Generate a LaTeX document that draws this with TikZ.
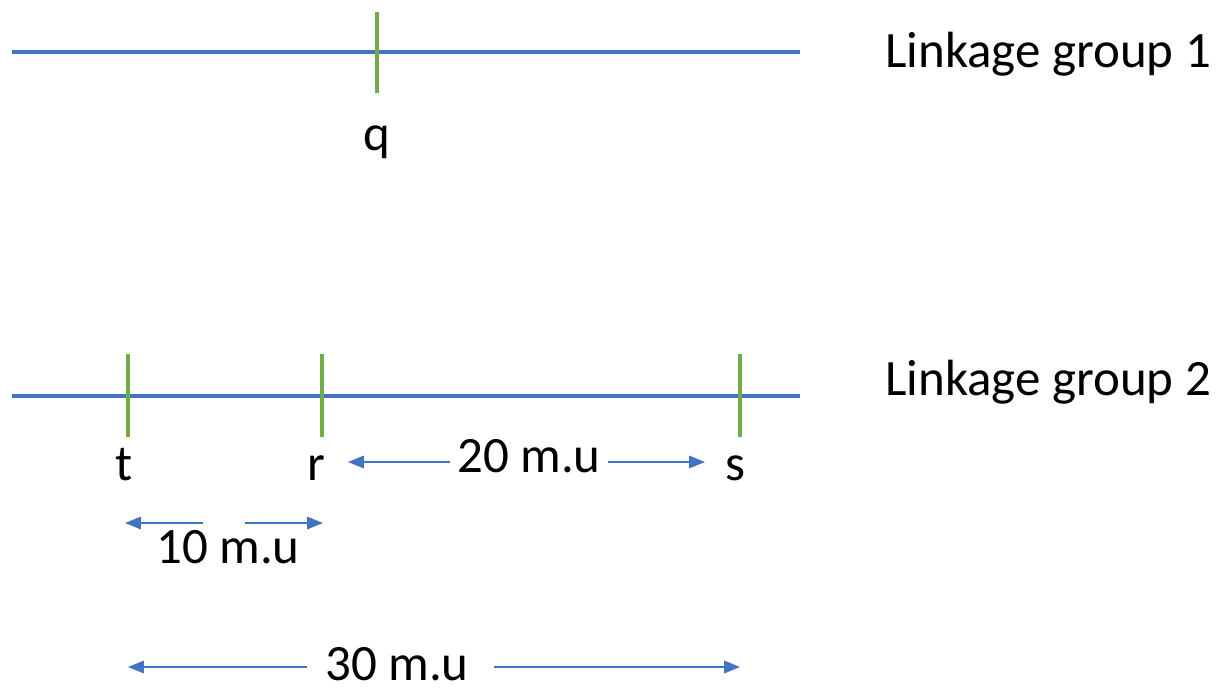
\documentclass[tikz,border=0pt]{standalone}
\usepackage{fontspec}
\setmainfont{Carlito}
\usetikzlibrary{arrows.meta}
\definecolor{chromblue}{HTML}{4472C4}
\definecolor{markgreen}{HTML}{70AD47}

\begin{document}
\begin{tikzpicture}[
    x=0.02cm, y=-0.02cm,
    every node/.style={font=\fontsize{29}{34}\selectfont, inner sep=0pt},
    chrom/.style ={draw=chromblue, line width=2.2pt},
    marker/.style={draw=markgreen, line width=2pt},
    dist/.style  ={draw=chromblue, line width=1.2pt,
                   -{Triangle[length=9pt,width=7pt]}},
    gene/.style  ={anchor=base},
]
\useasboundingbox (0,0) rectangle (1223,693);

% linkage group 1
\coordinate (lg1w) at (12,52);
\coordinate (lg1e) at (800,52);
\draw[chrom] (lg1w) -- (lg1e);
\draw[marker] (377,12) -- (377,93);
\node[gene] (q) at (377,150) {q};
\node[anchor=base west] (lab1) at (885,67) {Linkage group 1};

% linkage group 2
\coordinate (lg2w) at (12,396);
\coordinate (lg2e) at (800,396);
\draw[chrom] (lg2w) -- (lg2e);
\foreach \x in {128,322,740}
    \draw[marker] (\x,354) -- (\x,437);
\node[gene] (t) at (124,480) {t};
\node[gene] (r) at (316,480) {r};
\node[gene] (s) at (735,480) {s};
\node[anchor=base west] (lab2) at (885,395) {Linkage group 2};

% distances
\node[gene] (d20) at (529,472) {20 m.u};
\coordinate (d20l) at (348,462);
\coordinate (d20r) at (705,462);
\draw[dist] (450,462) -- (d20l);
\draw[dist] (608,462) -- (d20r);

\node[gene] (d10) at (228,563) {10 m.u};
\coordinate (d10l) at (125,523);
\coordinate (d10r) at (323,523);
\draw[dist] (203,523) -- (d10l);
\draw[dist] (245,523) -- (d10r);

\node[gene] (d30) at (397,680) {30 m.u};
\coordinate (d30l) at (128,667);
\coordinate (d30r) at (740,667);
\draw[dist] (307,667) -- (d30l);
\draw[dist] (494,667) -- (d30r);

\end{tikzpicture}
\end{document}
